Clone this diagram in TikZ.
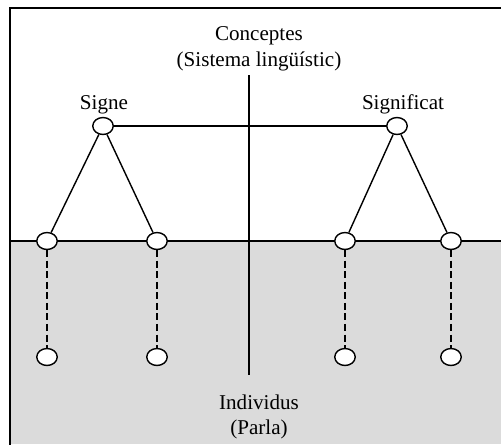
\documentclass[tikz,border=0pt]{standalone}
\usepackage{fontspec}
\setmainfont{Liberation Serif}
\usetikzlibrary{shapes.geometric}

\tikzset{
  punt/.style={ellipse, draw=black, fill=white, line width=0.8pt,
    minimum width=0.41cm, minimum height=0.34cm, inner sep=0pt},
  etiq/.style={font=\fontsize{12}{14.5}\selectfont, align=center, inner sep=0pt},
  enllac/.style={black, line width=0.8pt},
  parla/.style={black, line width=0.8pt, dash pattern=on 4pt off 2pt}
}

\begin{document}
\begin{tikzpicture}[x=0.02cm,y=0.02cm,line cap=butt,line join=miter]
  \clip (0,0) rectangle (501,444);

  % zona de la parla
  \fill[gray!28] (10,0) rectangle (510,203);

  % marc
  \draw[black, line width=0.9pt] (10,-5) -- (10,436) -- (510,436);
  \draw[black, line width=0.9pt] (10,203) -- (510,203);

  % eix central
  \coordinate (dalt) at (249,369);
  \coordinate (baix) at (249,69);
  \draw[enllac] (dalt) -- (baix);

  % textos
  \node[etiq] (conceptes) at (259,395) {Conceptes\\(Sistema lingüístic)};
  \node[etiq] (individus) at (259,27) {Individus\\(Parla)};

  % punts
  \node[punt] (sg) at (103,318) {};
  \node[punt] (sf) at (397,318) {};
  \node[punt] (c1) at (47,203) {};
  \node[punt] (c2) at (157,203) {};
  \node[punt] (c3) at (345,203) {};
  \node[punt] (c4) at (451,203) {};
  \node[punt] (p1) at (47,87) {};
  \node[punt] (p2) at (157,87) {};
  \node[punt] (p3) at (345,87) {};
  \node[punt] (p4) at (451,87) {};

  \node[etiq, anchor=south] (lsigne) at (104,330) {Signe};
  \node[etiq, anchor=south] (lsignificat) at (403,330) {Significat};

  % connexions
  \draw[enllac] (sg) -- (sf);
  \draw[enllac] (sg) -- (c1);
  \draw[enllac] (sg) -- (c2);
  \draw[enllac] (sf) -- (c3);
  \draw[enllac] (sf) -- (c4);
  \foreach \i in {1,2,3,4}{
    \draw[parla] (c\i) -- (p\i);
  }
\end{tikzpicture}
\end{document}
